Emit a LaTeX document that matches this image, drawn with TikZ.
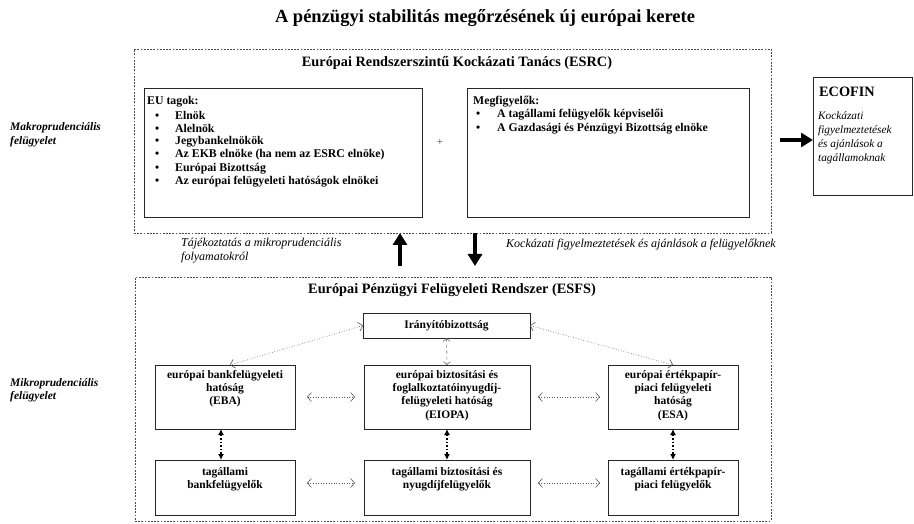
\documentclass[tikz,border=0pt]{standalone}
\usepackage{fontspec}
\setmainfont{Liberation Serif}
\usetikzlibrary{arrows.meta}

\tikzset{
  dashbox/.style={draw=black!70, dash pattern=on 1.8pt off 1.4pt, line width=0.9pt, inner sep=0pt, outer sep=0pt},
  solidbox/.style={draw=black!85, line width=0.9pt, inner sep=0pt, outer sep=0pt},
  boxtext/.style={font=\fontsize{11.5}{13.3}\selectfont\bfseries, align=center, anchor=north, inner sep=0pt},
  listtext/.style={font=\fontsize{11.8}{13}\selectfont\bfseries, anchor=west, inner sep=0pt},
  note/.style={font=\fontsize{12}{14}\selectfont\itshape, align=left, inner sep=0pt},
  sidetext/.style={font=\fontsize{11.5}{13.5}\selectfont\bfseries\itshape, align=left, anchor=west, inner sep=0pt},
  bigarrow/.style={line width=4.5pt, -{Triangle[length=12pt, width=14pt]}},
  thinlink/.style={black!65, dotted, line width=0.6pt, {Straight Barb[length=4pt, width=9pt]}-{Straight Barb[length=4pt, width=9pt]}},
  dashlink/.style={black!55, dashed, line width=0.6pt, {Straight Barb[length=3pt, width=7pt]}-{Straight Barb[length=3pt, width=7pt]}},
  vlink/.style={line width=1.6pt, dotted, {Latex[length=6pt, width=6pt]}-{Latex[length=6pt, width=6pt]}}
}

\begin{document}
\begin{tikzpicture}[x=1pt, y=-1pt]
    \useasboundingbox (0, 0) rectangle (914, 524);

    \node[font=\fontsize{18.5}{20}\selectfont\bfseries] (title) at (485, 18){A pénzügyi stabilitás megőrzésének új európai kerete};

    % makroprudencialis resz
    \node[sidetext] (makro) at (10, 134.5){Makroprudenciális\\felügyelet};
    \node[dashbox, minimum width=637pt, minimum height=184pt] (esrc) at (452.5, 141){};
    \node[font=\fontsize{14.3}{16}\selectfont\bfseries] (esrctitle) at (457, 63){Európai Rendszerszintű Kockázati Tanács (ESRC)};

    \node[solidbox, minimum width=278pt, minimum height=129pt] (eubox) at (283, 152.5){};
    \node[listtext] (euhead) at (147, 102){EU tagok:};
    \node[listtext] (eu1) at (155, 115){\makebox[20pt][l]{\textbullet}Elnök};
    \node[listtext] (eu2) at (155, 128.5){\makebox[20pt][l]{\textbullet}Alelnök};
    \node[listtext] (eu3) at (155, 142){\makebox[20pt][l]{\textbullet}Jegybankelnökök};
    \node[listtext] (eu4) at (155, 155){\makebox[20pt][l]{\textbullet}Az EKB elnöke (ha nem az ESRC elnöke)};
    \node[listtext] (eu5) at (155, 168.5){\makebox[20pt][l]{\textbullet}Európai Bizottság};
    \node[listtext] (eu6) at (155, 182){\makebox[20pt][l]{\textbullet}Az európai felügyeleti hatóságok elnökei};

    \node[font=\fontsize{11}{12}\selectfont, text=black!75] (plus) at (440, 142){+};

    \node[solidbox, minimum width=282pt, minimum height=129pt] (megbox) at (608, 152.5){};
    \node[listtext] (meghead) at (473, 102){Megfigyelők:};
    \node[listtext] (meg1) at (476, 115){\makebox[21pt][l]{\textbullet}A tagállami felügyelők képviselői};
    \node[listtext] (meg2) at (476, 128.5){\makebox[21pt][l]{\textbullet}A Gazdasági és Pénzügyi Bizottság elnöke};

    \node[solidbox, minimum width=99pt, minimum height=118pt] (ecofin) at (862.5, 136){};
    \node[font=\fontsize{14.3}{16}\selectfont\bfseries, anchor=west, inner sep=0pt] (ecofinhead) at (819, 92){ECOFIN};
    \node[note, anchor=north west, font=\fontsize{11.3}{14}\selectfont\itshape] (ecofintext) at (818, 111){Kockázati\\figyelmeztetések\\és ajánlások a\\tagállamoknak};

    \coordinate (ecofinin) at (780, 140);
    \draw[bigarrow] (ecofinin) -- (ecofinin -| ecofin.west);

    % a ket rendszer kozott
    \coordinate (upfrom) at (400, 266);
    \coordinate (downto) at (475, 266);
    \draw[bigarrow] (upfrom) -- (upfrom |- esrc.south);
    \draw[bigarrow] (downto |- esrc.south) -- (downto);

    \node[note, anchor=north west] (tajek) at (181, 238){Tájékoztatás a mikroprudenciális\\folyamatokról};
    \node[note, anchor=west] (kockazat) at (506, 245){Kockázati figyelmeztetések és ajánlások a felügyelőknek};

    % mikroprudencialis resz
    \node[sidetext] (mikro) at (10, 390){Mikroprudenciális\\felügyelet};
    \node[dashbox, minimum width=636pt, minimum height=244pt] (esfs) at (453, 399){};
    \node[font=\fontsize{14.3}{16}\selectfont\bfseries] (esfstitle) at (452, 290){Európai Pénzügyi Felügyeleti Rendszer (ESFS)};

    \node[solidbox, minimum width=167pt, minimum height=25pt, font=\fontsize{11.5}{13}\selectfont\bfseries] (iranyito) at (446.5, 325.5){Irányítóbizottság};

    \node[solidbox, minimum width=140pt, minimum height=64pt] (eba) at (225, 397){};
    \node[solidbox, minimum width=166pt, minimum height=64pt] (eiopa) at (447, 397){};
    \node[solidbox, minimum width=130pt, minimum height=64pt] (esa) at (673, 397){};
    \node[boxtext] (ebatext) at (225, 370){európai bankfelügyeleti\\hatóság\\(EBA)};
    \node[boxtext] (eiopatext) at (447, 370){európai biztosítási és\\foglalkoztatóinyugdíj-\\felügyeleti hatóság\\(EIOPA)};
    \node[boxtext] (esatext) at (673, 370){európai értékpapír-\\piaci felügyeleti\\hatóság\\(ESA)};

    \node[solidbox, minimum width=140pt, minimum height=55pt] (tbank) at (225, 487.5){};
    \node[solidbox, minimum width=166pt, minimum height=55pt] (tbiz) at (447, 487.5){};
    \node[solidbox, minimum width=130pt, minimum height=55pt] (tertek) at (673, 487.5){};
    \node[boxtext] (tbanktext) at (225, 467){tagállami\\bankfelügyelők};
    \node[boxtext] (tbiztext) at (447, 467){tagállami biztosítási és\\nyugdíjfelügyelők};
    \node[boxtext] (tertektext) at (673, 467){tagállami értékpapír-\\piaci felügyelők};

    \draw[thinlink] (iranyito.west) -- ([xshift=5pt]eba.north);
    \draw[thinlink] (iranyito.east) -- (esa.north);
    \draw[dashlink] (iranyito.south) -- (eiopa.north);

    \draw[thinlink, shorten <=12pt, shorten >=9pt] (eba.east) -- (eiopa.west);
    \draw[thinlink, shorten <=8pt, shorten >=8pt] (eiopa.east) -- (esa.west);
    \draw[thinlink, shorten <=12pt, shorten >=9pt] ([yshift=4.5pt]tbank.east) -- ([yshift=4.5pt]tbiz.west);
    \draw[thinlink, shorten <=8pt, shorten >=8pt] ([yshift=4.5pt]tbiz.east) -- ([yshift=4.5pt]tertek.west);

    \draw[vlink] ([xshift=-4pt]eba.south) -- ([xshift=-4pt]tbank.north);
    \draw[vlink] (eiopa.south) -- (tbiz.north);
    \draw[vlink] (esa.south) -- (tertek.north);

  \end{tikzpicture}
\end{document}
